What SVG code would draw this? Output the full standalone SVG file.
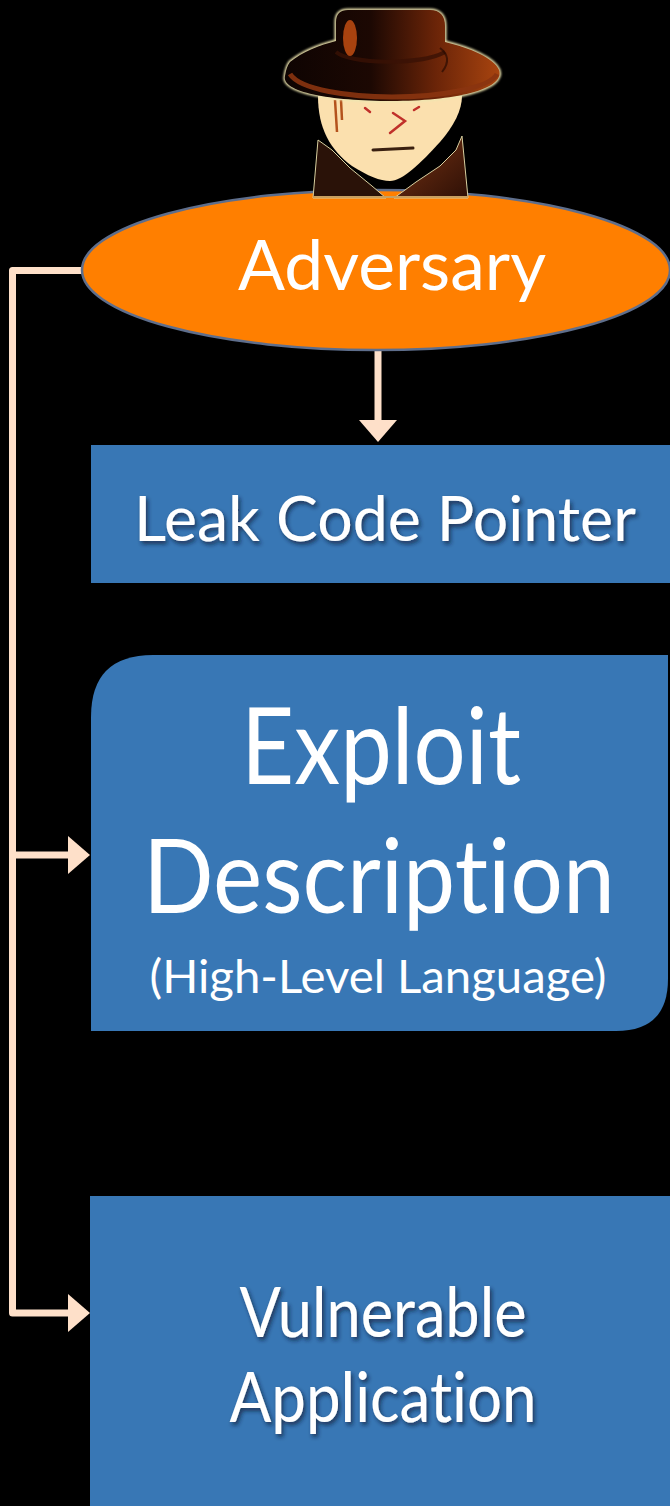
<svg xmlns="http://www.w3.org/2000/svg" width="670" height="1506" viewBox="0 0 670 1506">
  <style>
    .box { fill: #3877b5; }
    .label { fill: #ffffff; font-family: Lato, "Liberation Sans", sans-serif; text-anchor: middle; font-variant-ligatures: none; }
    .conn { fill: none; stroke: #fee0c9; stroke-width: 7; stroke-linejoin: round; }
  </style>
  <defs>
    <marker id="head" viewBox="0 0 22 38" markerUnits="userSpaceOnUse" markerWidth="22" markerHeight="38" refX="0" refY="19" orient="auto">
      <path d="M0,0 L22,19 L0,38 Z" fill="#fee0c9"/>
    </marker>
    <filter id="shadow" x="-10%" y="-20%" width="130%" height="150%">
      <feDropShadow dx="2" dy="3" stdDeviation="2" flood-color="#0a1a30" flood-opacity="0.7"/>
    </filter>
    <filter id="glow" x="-10%" y="-10%" width="120%" height="120%">
      <feGaussianBlur stdDeviation="0.9"/>
    </filter>
    <linearGradient id="hat" x1="0" y1="0" x2="1" y2="0">
      <stop offset="0" stop-color="#0e0402"/>
      <stop offset="0.4" stop-color="#1c0803"/>
      <stop offset="0.7" stop-color="#6a2408"/>
      <stop offset="1" stop-color="#a8440f"/>
    </linearGradient>
    <linearGradient id="coatR" x1="0" y1="0" x2="1" y2="1">
      <stop offset="0" stop-color="#7a3414"/>
      <stop offset="1" stop-color="#2e1006"/>
    </linearGradient>
  </defs>

  <rect width="670" height="1506" fill="#000000"/>

  <!-- connectors -->
  <g id="connectors">
    <path class="conn" d="M378,350 V420" marker-end="url(#head)"/>
    <path class="conn" d="M83,270.5 H12.5 V1313 H68" marker-end="url(#head)"/>
    <path class="conn" d="M12.5,855 H68" marker-end="url(#head)"/>
  </g>

  <!-- adversary node -->
  <g id="adversary">
    <ellipse cx="376" cy="270" rx="294" ry="80" fill="#ff7f00" stroke="#5e6e8c" stroke-width="2.5"/>
    <text class="label" x="392" y="290" font-size="70" textLength="308" lengthAdjust="spacingAndGlyphs">Adversary</text>
  </g>

  <!-- spy figure sitting on the adversary ellipse -->
  <g id="spy">
    <!-- coat collar -->
    <path d="M318,140 L332,150 L350,168 L372,186 L386,198 L313,198 Z" fill="#2a1208" stroke="#d8d0a0" stroke-width="1"/>
    <path d="M462,136 L456,150 L440,166 L416,182 L394,198 L468,198 Z" fill="url(#coatR)" stroke="#d8d0a0" stroke-width="1"/>
    <!-- face -->
    <path d="M318,96 C318,128 330,150 352,166 C368,176 380,181 390,181 C402,181 420,164 440,142 C454,126 462,110 462,96 Z" fill="#fbe0ae"/>
    <path d="M335,100 L337,132 M341,100 L342,120" stroke="#b4521c" stroke-width="2.5" fill="none"/>
    <path d="M365,108 L370,112 M414,110 L419,107" stroke="#c0302a" stroke-width="2.5" fill="none" stroke-linecap="round"/>
    <path d="M393,113 L405,121 L390,133" stroke="#c0302a" stroke-width="2.5" fill="none" stroke-linecap="round"/>
    <path d="M373,150 L413,148" stroke="#3a2010" stroke-width="3" stroke-linecap="round"/>
    <!-- coat bottom edge -->
    <path d="M313,197 H468" stroke="#c8a060" stroke-width="2"/>
    <!-- hat: one silhouette with a pale halo, then shading -->
    <path id="hat-outline" d="M290,62 C302,52 320,45 336,41 V22 C336,14 340,10 348,10 H430 C440,10 445,16 445,26 V42 C470,48 494,58 499,70 C506,90 452,101 392,101 C330,101 281,92 285,76 C286,70 287,66 290,62 Z" fill="none" stroke="#efe6b0" stroke-width="3" filter="url(#glow)"/>
    <path d="M290,62 C302,52 320,45 336,41 V22 C336,14 340,10 348,10 H430 C440,10 445,16 445,26 V42 C470,48 494,58 499,70 C506,90 452,101 392,101 C330,101 281,92 285,76 C286,70 287,66 290,62 Z" fill="url(#hat)"/>
    <path d="M290,74 C300,90 350,97 392,97 C440,97 490,88 497,74" fill="none" stroke="#8a3410" stroke-width="5" opacity="0.9"/>
    <path d="M336,52 C350,64 420,66 445,52" fill="none" stroke="#3a1205" stroke-width="4" opacity="0.8"/>
    <path d="M440,48 C448,54 450,62 442,72" fill="none" stroke="#2a0c03" stroke-width="2" opacity="0.7"/>
    <ellipse cx="350" cy="38" rx="7" ry="18" fill="#a8420f"/>
  </g>

  <!-- leak code pointer node -->
  <g id="leak">
    <rect class="box" x="91" y="445" width="579" height="138"/>
    <text class="label" x="385" y="541" font-size="61" textLength="502" lengthAdjust="spacingAndGlyphs" filter="url(#shadow)">Leak Code Pointer</text>
  </g>

  <!-- exploit description node -->
  <g id="exploit">
    <path class="box" d="M153,655 H668 V979 Q668,1031 616,1031 H91 V717 Q91,655 153,655 Z"/>
    <text class="label" x="381" y="784" font-size="106" textLength="280" lengthAdjust="spacingAndGlyphs">Exploit</text>
    <text class="label" x="379" y="913" font-size="103" textLength="472" lengthAdjust="spacingAndGlyphs">Description</text>
    <text class="label" x="378" y="993" font-size="46" textLength="457" lengthAdjust="spacingAndGlyphs">(High-Level Language)</text>
  </g>

  <!-- vulnerable application node -->
  <g id="vulnerable">
    <rect class="box" x="90" y="1196" width="580" height="310"/>
    <text class="label" x="383" y="1337" font-size="70" textLength="287" lengthAdjust="spacingAndGlyphs" filter="url(#shadow)">Vulnerable</text>
    <text class="label" x="383" y="1422" font-size="70" textLength="307" lengthAdjust="spacingAndGlyphs" filter="url(#shadow)">Application</text>
  </g>
</svg>
